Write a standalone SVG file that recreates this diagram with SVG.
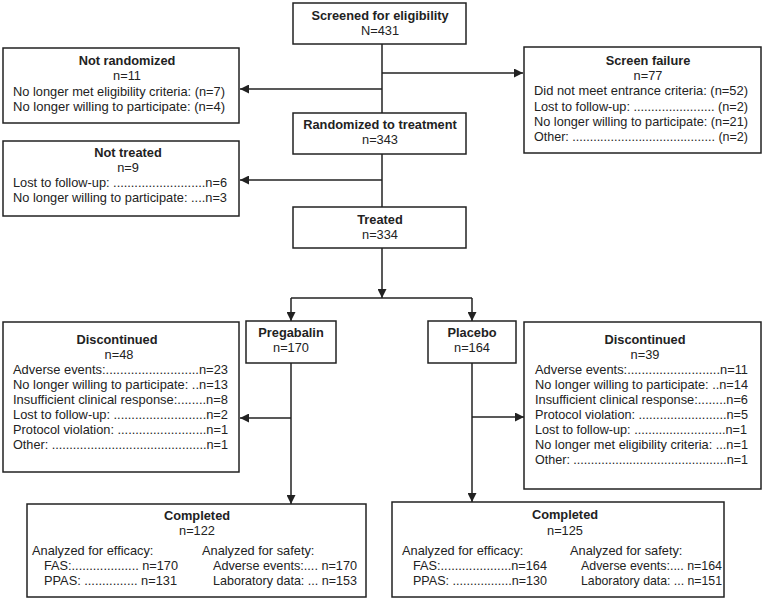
<svg xmlns="http://www.w3.org/2000/svg" width="764" height="601" viewBox="0 0 764 601">
<defs>
<marker id="ah" markerUnits="userSpaceOnUse" markerWidth="9" markerHeight="9" refX="9" refY="4.5" orient="auto">
<path d="M0,0 L9,4.5 L0,9 z" fill="#222"/>
</marker>
<style>
.box{fill:#fff;stroke:#222;stroke-width:1.5}
.t{font-family:"Liberation Sans",Arial,sans-serif;font-size:12.8px;fill:#222}
.b{font-weight:bold}
.c{text-anchor:middle}
.ln{fill:none;stroke:#222;stroke-width:1.5}
</style>
</defs>
<rect width="764" height="601" fill="#fff"/>
<g id="connectors">
<path class="ln" d="M382,44 V113"/>
<path class="ln" d="M382,73 H523" marker-end="url(#ah)"/>
<path class="ln" d="M382,89 H240" marker-end="url(#ah)"/>
<path class="ln" d="M382,154 V207"/>
<path class="ln" d="M382,180 H240" marker-end="url(#ah)"/>
<path class="ln" d="M382,248 V298" marker-end="url(#ah)"/>
<path class="ln" d="M291,298 H472"/>
<path class="ln" d="M291,298 V321" marker-end="url(#ah)"/>
<path class="ln" d="M472,298 V321" marker-end="url(#ah)"/>
<path class="ln" d="M291,363 V504" marker-end="url(#ah)"/>
<path class="ln" d="M291,418 H240" marker-end="url(#ah)"/>
<path class="ln" d="M472,363 V502" marker-end="url(#ah)"/>
<path class="ln" d="M472,417 H524" marker-end="url(#ah)"/>
</g>
<g id="screened">
<rect class="box" x="293" y="3" width="173" height="41"/>
<text class="t b c" x="380" y="20">Screened for eligibility</text>
<text class="t c" x="380" y="35">N=431</text>
</g>
<g id="not-randomized">
<rect class="box" x="3" y="48" width="236" height="75"/>
<text class="t b c" x="127" y="65">Not randomized</text>
<text class="t c" x="127" y="80">n=11</text>
<text class="t" x="13" y="95.5" textLength="212" lengthAdjust="spacingAndGlyphs">No longer met eligibility criteria: (n=7)</text>
<text class="t" x="13" y="110.5" textLength="212" lengthAdjust="spacingAndGlyphs">No longer willing to participate:  (n=4)</text>
</g>
<g id="screen-failure">
<rect class="box" x="524" y="47" width="237" height="106"/>
<text class="t b c" x="648" y="65">Screen failure</text>
<text class="t c" x="648" y="80">n=77</text>
<text class="t" x="534" y="95" textLength="214" lengthAdjust="spacingAndGlyphs">Did not meet entrance criteria:  (n=52)</text>
<text class="t" x="534" y="110.5" textLength="214" lengthAdjust="spacingAndGlyphs">Lost to follow-up: ....................... (n=2)</text>
<text class="t" x="534" y="125.5" textLength="214" lengthAdjust="spacingAndGlyphs">No longer willing to participate: (n=21)</text>
<text class="t" x="534" y="140.5" textLength="214" lengthAdjust="spacingAndGlyphs">Other: ......................................... (n=2)</text>
</g>
<g id="randomized">
<rect class="box" x="293" y="113" width="173" height="41"/>
<text class="t b c" x="380" y="129">Randomized to treatment</text>
<text class="t c" x="380" y="144">n=343</text>
</g>
<g id="not-treated">
<rect class="box" x="3" y="141" width="236" height="75"/>
<text class="t b c" x="128" y="157">Not treated</text>
<text class="t c" x="128" y="172">n=9</text>
<text class="t" x="13" y="187" textLength="214" lengthAdjust="spacingAndGlyphs">Lost to follow-up: ..........................n=6</text>
<text class="t" x="13" y="202" textLength="214" lengthAdjust="spacingAndGlyphs">No longer willing to participate: ....n=3</text>
</g>
<g id="treated">
<rect class="box" x="293" y="207" width="173" height="41"/>
<text class="t b c" x="380" y="224">Treated</text>
<text class="t c" x="380" y="239">n=334</text>
</g>
<g id="pregabalin">
<rect class="box" x="246" y="321" width="90" height="42"/>
<text class="t b c" x="291" y="337">Pregabalin</text>
<text class="t c" x="291" y="352">n=170</text>
</g>
<g id="placebo">
<rect class="box" x="428" y="321" width="88" height="42"/>
<text class="t b c" x="472" y="337">Placebo</text>
<text class="t c" x="472" y="352">n=164</text>
</g>
<g id="discontinued-pregabalin">
<rect class="box" x="3" y="322" width="236" height="150"/>
<text class="t b c" x="117" y="344">Discontinued</text>
<text class="t c" x="119" y="359">n=48</text>
<text class="t" x="13" y="374" textLength="215" lengthAdjust="spacingAndGlyphs">Adverse events:..........................n=23</text>
<text class="t" x="13" y="389" textLength="215" lengthAdjust="spacingAndGlyphs">No longer willing to participate: ..n=13</text>
<text class="t" x="13" y="404" textLength="215" lengthAdjust="spacingAndGlyphs">Insufficient clinical response:........n=8</text>
<text class="t" x="13" y="419" textLength="215" lengthAdjust="spacingAndGlyphs">Lost to follow-up: ..........................n=2</text>
<text class="t" x="13" y="434" textLength="215" lengthAdjust="spacingAndGlyphs">Protocol violation: .........................n=1</text>
<text class="t" x="13" y="449" textLength="215" lengthAdjust="spacingAndGlyphs">Other: ............................................n=1</text>
</g>
<g id="discontinued-placebo">
<rect class="box" x="524" y="322" width="237" height="167"/>
<text class="t b c" x="645" y="344">Discontinued</text>
<text class="t c" x="645" y="359">n=39</text>
<text class="t" x="535" y="374" textLength="213" lengthAdjust="spacingAndGlyphs">Adverse events:..........................n=11</text>
<text class="t" x="535" y="389" textLength="213" lengthAdjust="spacingAndGlyphs">No longer willing to participate: ..n=14</text>
<text class="t" x="535" y="404" textLength="213" lengthAdjust="spacingAndGlyphs">Insufficient clinical response:........n=6</text>
<text class="t" x="535" y="419" textLength="213" lengthAdjust="spacingAndGlyphs">Protocol violation: .........................n=5</text>
<text class="t" x="535" y="434" textLength="212" lengthAdjust="spacingAndGlyphs">Lost to follow-up: ..........................n=1</text>
<text class="t" x="535" y="449" textLength="213" lengthAdjust="spacingAndGlyphs">No longer met eligibility criteria: ...n=1</text>
<text class="t" x="535" y="464" textLength="213" lengthAdjust="spacingAndGlyphs">Other: ............................................n=1</text>
</g>
<g id="completed-pregabalin">
<rect class="box" x="27" y="504" width="339" height="93"/>
<text class="t b c" x="197" y="520">Completed</text>
<text class="t c" x="197" y="535">n=122</text>
<text class="t" x="32" y="555">Analyzed for efficacy:</text>
<text class="t" x="44" y="570" textLength="134" lengthAdjust="spacingAndGlyphs">FAS:................... n=170</text>
<text class="t" x="44" y="585" textLength="133" lengthAdjust="spacingAndGlyphs">PPAS: ............... n=131</text>
<text class="t" x="202" y="555">Analyzed for safety:</text>
<text class="t" x="213" y="570" textLength="144" lengthAdjust="spacingAndGlyphs">Adverse events:.... n=170</text>
<text class="t" x="213" y="585" textLength="144" lengthAdjust="spacingAndGlyphs">Laboratory data: ... n=153</text>
</g>
<g id="completed-placebo">
<rect class="box" x="392" y="502" width="332" height="95"/>
<text class="t b c" x="565" y="519">Completed</text>
<text class="t c" x="565" y="535">n=125</text>
<text class="t" x="402" y="555">Analyzed for efficacy:</text>
<text class="t" x="413" y="570" textLength="134" lengthAdjust="spacingAndGlyphs">FAS:....................n=164</text>
<text class="t" x="413" y="585" textLength="134" lengthAdjust="spacingAndGlyphs">PPAS: .................n=130</text>
<text class="t" x="570" y="555">Analyzed for safety:</text>
<text class="t" x="581" y="570" textLength="141" lengthAdjust="spacingAndGlyphs">Adverse events:.... n=164</text>
<text class="t" x="581" y="585" textLength="141" lengthAdjust="spacingAndGlyphs">Laboratory data: ... n=151</text>
</g>
</svg>
